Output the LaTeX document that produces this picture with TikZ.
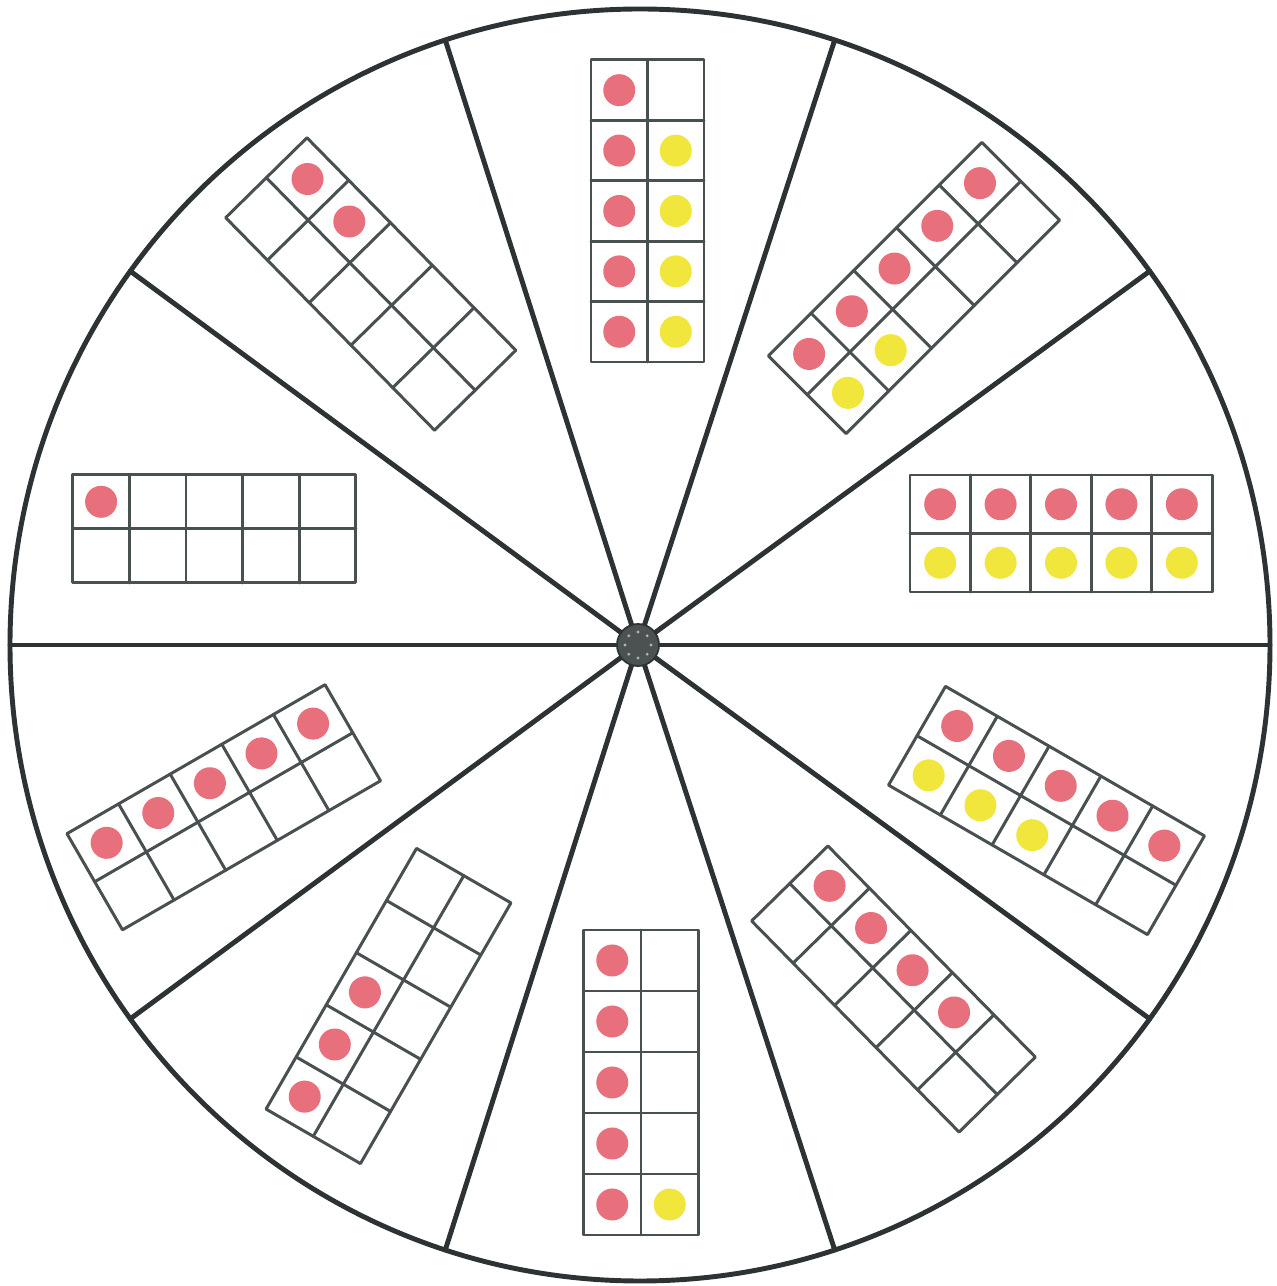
\documentclass[tikz,border=0pt]{standalone}
\usepackage{tikz}
\usetikzlibrary{calc}
\definecolor{rimcol}{RGB}{45,50,52}
\definecolor{framecol}{RGB}{72,80,82}
\definecolor{redcol}{RGB}{232,112,124}
\definecolor{yelcol}{RGB}{240,230,60}
\tikzset{
  rim/.style={draw=rimcol,line width=2.8pt},
  spoke/.style={draw=rimcol,line width=2.8pt,line cap=round},
  framel/.style={draw=framecol,line width=1.7pt,line join=round,line cap=round},
  reddot/.style={fill=redcol},
  yellowdot/.style={fill=yelcol},
  hubst/.style={fill=rimcol!85!white,draw=rimcol,line width=1pt}
}
\newcommand\tenframe[7]{%
 \begin{scope}[shift={(#1,{1286-#2})},rotate=#3]
  \pgfmathsetmacro\hL{#4/2}\pgfmathsetmacro\hW{#5/2}\pgfmathsetmacro\cw{#4/5}
  \foreach \i in {#6} \fill[reddot] ({-\hL+(\i+0.5)*\cw},{\hW/2}) circle (16);
  \def\ylist{#7}\ifx\ylist\empty\else
  \foreach \i in {#7} \fill[yellowdot] ({-\hL+(\i+0.5)*\cw},{-\hW/2}) circle (16);\fi
  \draw[framel] (-\hL,-\hW) rectangle (\hL,\hW);
  \draw[framel] (-\hL,0) -- (\hL,0);
  \foreach \k in {1,2,3,4} \draw[framel] ({-\hL+\k*\cw},-\hW) -- ({-\hL+\k*\cw},\hW);
 \end{scope}}
\begin{document}
\begin{tikzpicture}[x=0.02cm,y=0.02cm]
\useasboundingbox (0,0) rectangle (1277,1286);
\fill[white] (0,0) rectangle (1277,1286);
\coordinate (C) at (640,641);
\coordinate (H) at (638,641);
\draw[rim] (C) ellipse (630 and 636);
\foreach \a in {0,36,...,324}
  \draw[spoke] (H) -- ({640+630*cos(\a)},{641+636*sin(\a)});
\fill[hubst] (H) circle (21);
\foreach \a in {0,45,...,315}
  \fill[gray!60] ($(H)+(\a:13)$) circle (1.6);
% ten-frames: cx, cy (from top), angle, length, width, red cells, yellow cells
\tenframe{647.5}{211}{90}{302}{113}{0,1,2,3,4}{0,1,2,3}
\tenframe{914}{288}{45}{302}{110}{0,1,2,3,4}{0,1}
\tenframe{1061}{533.5}{0}{302}{117}{0,1,2,3,4}{0,1,2,3,4}
\tenframe{1046.5}{810.5}{-30}{299}{114}{0,1,2,3,4}{0,1,2}
\tenframe{893.5}{989}{-45.5}{296}{107}{0,1,2,3}{}
\tenframe{641}{1082.5}{90}{305}{115}{0,1,2,3,4}{0}
\tenframe{388.5}{1006}{60}{301}{109}{0,1,2}{}
\tenframe{223.75}{807.25}{30}{298}{111}{0,1,2,3,4}{}
\tenframe{214.3}{528.8}{0}{283}{108}{0}{}
\tenframe{370.75}{284}{-45.5}{298}{114}{0,1}{}
\end{tikzpicture}
\end{document}
